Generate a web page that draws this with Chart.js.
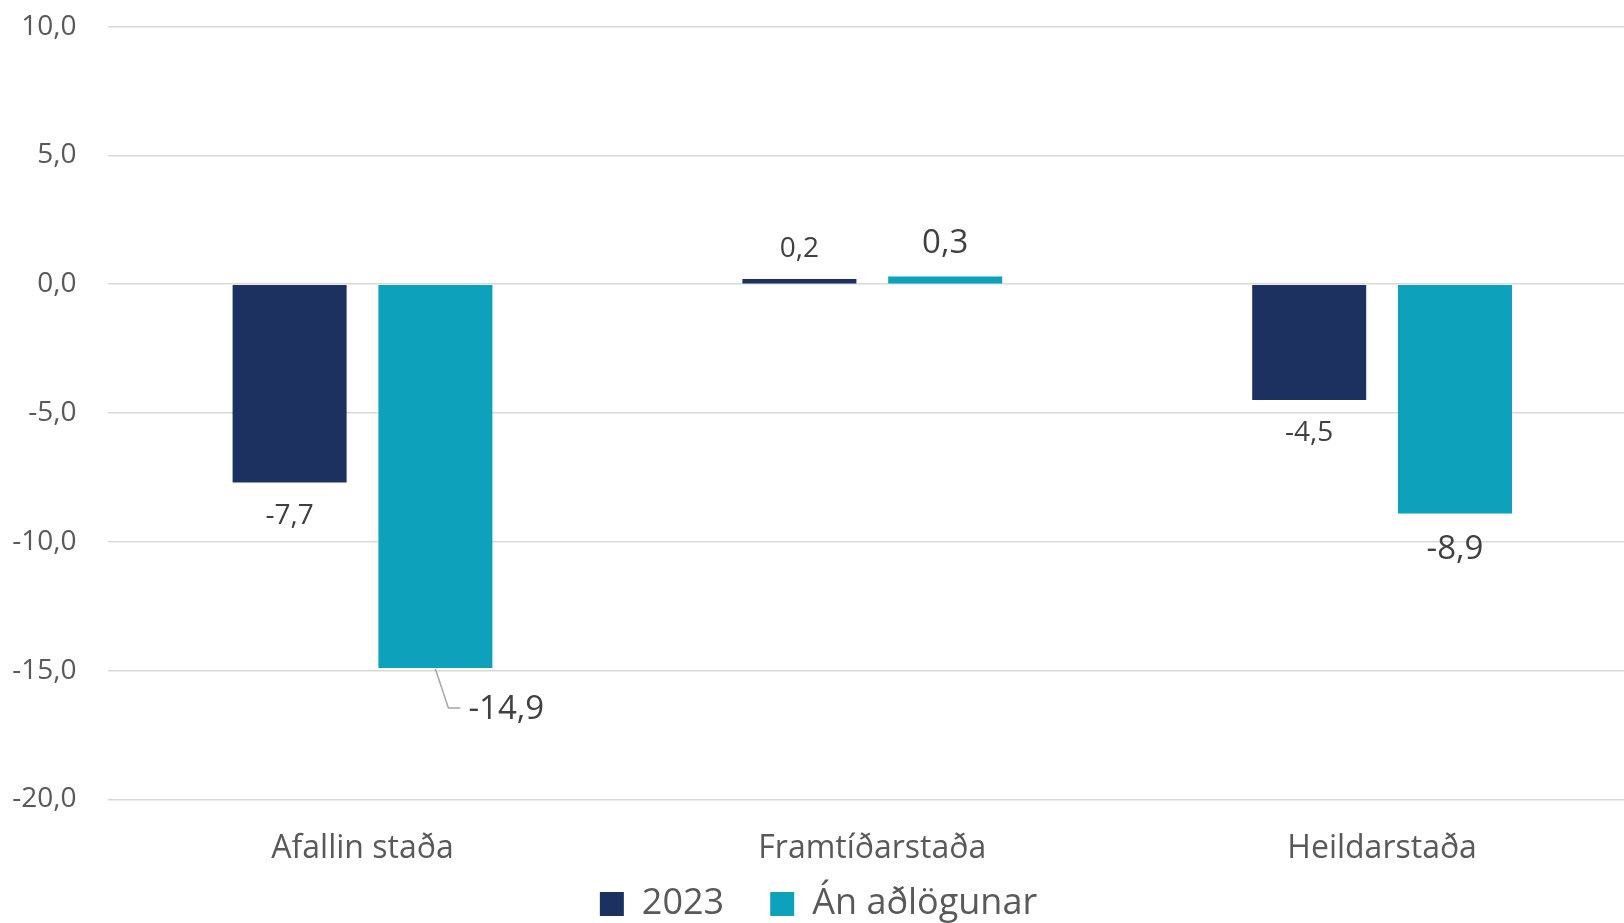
<!DOCTYPE html>
<html>
<head>
<meta charset="utf-8">
<script src="https://cdn.jsdelivr.net/npm/chart.js@4"></script>
<style>
  html, body { margin: 0; padding: 0; background: #fff; overflow: hidden; }
  #wrap { width: 1637px; height: 932px; }
</style>
</head>
<body>
<div id="wrap"><canvas id="barChart"></canvas></div>
<script>
const categories = ['Afallin staða', 'Framtíðarstaða', 'Heildarstaða'];
const seriesNames = ['2023', 'Án aðlögunar'];
const values2023 = [-7.7, 0.2, -4.5];
const valuesAn = [-14.9, 0.3, -8.9];
const yTicks = [-20, -15, -10, -5, 0, 5, 10];

const ctx = document.getElementById('barChart');

function fmt(v) {
    return v.toFixed(1).replace('.', ',');
}

// data labels drawn from the bar elements
const labelPlugin = {
    id: 'valueLabels',
    afterDatasetsDraw(chart) {
        const c = chart.ctx;
        const sizes = [28, 33];
        chart.data.datasets.forEach((ds, di) => {
            const meta = chart.getDatasetMeta(di);
            meta.data.forEach((bar, i) => {
                const v = ds.data[i];
                c.save();
                c.fillStyle = '#404040';
                c.font = sizes[di] + 'px "Open Sans"';
                c.textBaseline = 'middle';
                if (di === 1 && i === 0) {
                    // label moved aside with a leader line
                    c.strokeStyle = '#a6a6a6';
                    c.lineWidth = 1.5;
                    c.beginPath();
                    c.moveTo(bar.x, bar.y + 1);
                    c.lineTo(bar.x + 13, bar.y + 40);
                    c.lineTo(bar.x + 25, bar.y + 40);
                    c.stroke();
                    c.textAlign = 'left';
                    c.fillText(fmt(v), bar.x + 33, bar.y + 42);
                } else {
                    c.textAlign = 'center';
                    const off = v >= 0 ? (di === 0 ? -30 : -33) : (di === 0 ? 33 : 36);
                    c.fillText(fmt(v), bar.x, bar.y + off);
                }
                c.restore();
            });
        });
    }
};

var chart = {
    type: 'bar',
    data: {
        labels: categories,
        datasets: [{
            label: seriesNames[0],
            data: values2023,
            backgroundColor: '#1c3160',
            categoryPercentage: 0.572,
            barPercentage: 0.782
        }, {
            label: seriesNames[1],
            data: valuesAn,
            backgroundColor: '#0ea1bc',
            categoryPercentage: 0.572,
            barPercentage: 0.782
        }]
    },
    options: {
        responsive: true,
        maintainAspectRatio: false,
        animation: false,
        layout: { padding: { top: 26.7, right: 0, left: 0, bottom: 0 } },
        plugins: {
            tooltip: { enabled: false },
            legend: {
                position: 'bottom',
                labels: {
                    color: '#595959',
                    font: { family: 'Open Sans', size: 36, lineHeight: 1 },
                    boxWidth: 24,
                    boxHeight: 24,
                    padding: 10,
                    generateLabels: (ch) => {
                        const items = Chart.defaults.plugins.legend.labels.generateLabels(ch);
                        // extra room between the two entries
                        items[0].text = items[0].text + '\u2003';
                        return items;
                    }
                }
            }
        },
        scales: {
            x: {
                grid: { display: false },
                border: { display: false },
                afterFit: (scale) => {
                    scale.height = 76.7;
                },
                ticks: {
                    color: '#595959',
                    font: { family: 'Open Sans', size: 32 },
                    padding: 22
                }
            },
            y: {
                min: -20,
                max: 10,
                afterBuildTicks: (scale) => {
                    scale.ticks = yTicks.map(v => ({ value: v }));
                },
                afterFit: (scale) => {
                    scale.width = 107.6;
                },
                grid: { color: '#d9d9d9', lineWidth: 1.5, tickLength: 31, tickColor: 'transparent' },
                border: { display: false },
                ticks: {
                    color: '#595959',
                    font: { family: 'Open Sans', size: 28 },
                    padding: 0,
                    callback: (v) => fmt(v)
                }
            }
        }
    },
    plugins: [labelPlugin]
};

let chart1 = new Chart(ctx, chart);
</script>
</body>
</html>
